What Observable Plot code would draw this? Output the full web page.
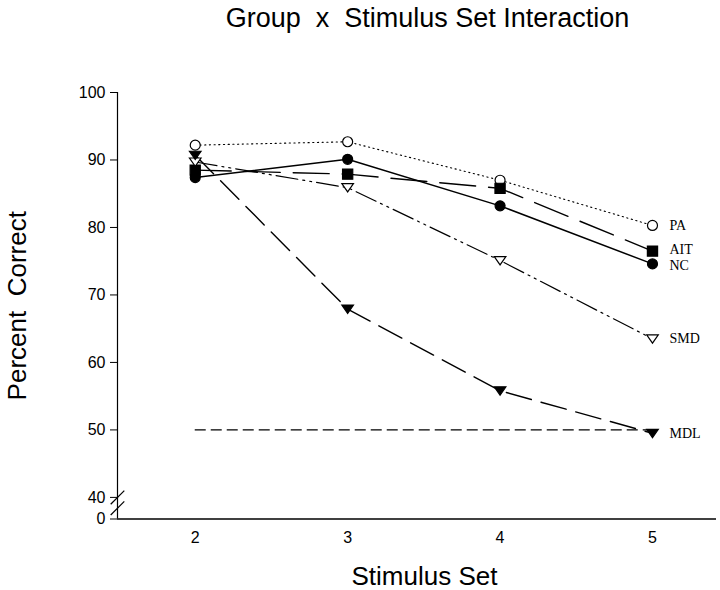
<!DOCTYPE html>
<html>
<head>
<meta charset="utf-8">
<script src="https://cdn.jsdelivr.net/npm/d3@7"></script>
<script src="https://cdn.jsdelivr.net/npm/@observablehq/plot@0.6"></script>
<style>
  html, body { margin: 0; padding: 0; background: #fff; }
  #chart svg { display: block; }
  #chart svg text { white-space: pre; }
  #chart svg g[aria-label*="tick label"] {
    font-size: 16px !important;
    font-family: 'Liberation Sans', Arial, Helvetica, sans-serif !important;
  }
</style>
</head>
<body>
<div id="chart"></div>
<script>
// ---- data ----
const chartTitle = "Group  x  Stimulus Set Interaction";
const xTitle = "Stimulus Set";
const yTitle = "Percent  Correct";
const stimulusSets = [2, 3, 4, 5];
const groups = ["PA", "AIT", "NC", "SMD", "MDL"];
const paValues  = [92.2, 92.7, 87.0, 80.3];
const aitValues = [88.5, 87.9, 85.8, 76.5];
const ncValues  = [87.4, 90.1, 83.2, 74.6];
const smdValues = [89.7, 85.9, 75.1, 63.5];
const mdlValues = [90.7, 67.9, 55.8, 49.5];
const chanceLevel = 50;
const xTicks = [2, 3, 4, 5];
const yTicks = [40, 50, 60, 70, 80, 90, 100];
const yZeroLabel = "0";
const yFloor = 36.8;          // scale value where the broken axis shows "0"
const breakMarks = [40, 38.4]; // the two "//" marks of the axis break
const xDomain = [1.49, 5.42];
const yDomain = [yFloor, 100];

// ---- build table ----
const valuesByGroup = {PA: paValues, AIT: aitValues, NC: ncValues, SMD: smdValues, MDL: mdlValues};
const rows = groups.flatMap(g => stimulusSets.map((s, i) => ({group: g, set: s, pct: valuesByGroup[g][i]})));
const lastRows = groups.map(g => rows.filter(r => r.group === g).at(-1));

// ---- symbols ----
const downTriangle = {
  draw(ctx, size) {
    const k = Math.sqrt(size / Math.PI);
    ctx.moveTo(-1.16 * k, -0.8 * k);
    ctx.lineTo(1.16 * k, -0.8 * k);
    ctx.lineTo(0, 0.86 * k);
    ctx.closePath();
  }
};
const square = {
  draw(ctx, size) {
    const k = Math.sqrt(size / Math.PI) * 1.02;
    ctx.rect(-k, -k, 2 * k, 2 * k);
  }
};
const slash = {
  draw(ctx, size) {
    const k = Math.sqrt(size / Math.PI);
    ctx.moveTo(-k, k);
    ctx.lineTo(k, -k);
  }
};

const styles = {
  PA:  {dash: "1.2,3.5", symbol: "circle", fill: "white", width: 1.1, labelDy: 0},
  AIT: {dash: "36,13", symbol: square, fill: "black", width: 1.4, labelDy: -2},
  NC:  {dash: null, symbol: "circle", fill: "black", width: 1.5, labelDy: 2},
  SMD: {dash: "22,5,2,5,2,5", symbol: downTriangle, fill: "white", width: 1.2, labelDy: 0},
  MDL: {dash: "26,10", symbol: downTriangle, fill: "black", width: 1.4, labelDy: 0}
};

const sans = "'Liberation Sans', Arial, Helvetica, sans-serif";
const serif = "'Liberation Serif', 'Times New Roman', serif";

const chart = Plot.plot({
  width: 720,
  height: 590,
  marginTop: 92,
  marginBottom: 71.5,
  marginLeft: 117,
  marginRight: 4,
  style: {fontFamily: sans, fontSize: "16px", color: "black", background: "white", overflow: "visible"},
  x: {domain: xDomain, ticks: xTicks, tickSize: 0, tickPadding: 13, label: null,
      tickFormat: d => String(d)},
  y: {domain: yDomain, ticks: [yFloor, ...yTicks], tickSize: 7, tickPadding: 5, label: null,
      tickFormat: d => d === yFloor ? yZeroLabel : String(d)},
  marks: [
    // axis lines
    Plot.ruleX([xDomain[0]], {y1: yFloor, y2: yDomain[1], stroke: "black", strokeWidth: 1.2}),
    Plot.ruleY([yFloor], {stroke: "black", strokeWidth: 1.6}),
    Plot.dot(breakMarks, {x: () => xDomain[0], y: d => d, symbol: slash, r: 6.8, fill: "none", stroke: "black", strokeWidth: 1.2}),
    // chance line
    Plot.ruleY([chanceLevel], {x1: stimulusSets[0], x2: stimulusSets[stimulusSets.length - 1], stroke: "black", strokeWidth: 1.2, strokeDasharray: "11,5"}),
    // series lines
    ...groups.map(g => Plot.line(rows.filter(r => r.group === g), {
      x: "set", y: "pct", stroke: "black", strokeWidth: styles[g].width,
      strokeDasharray: styles[g].dash ?? undefined
    })),
    // markers
    ...groups.map(g => Plot.dot(rows.filter(r => r.group === g), {
      x: "set", y: "pct", symbol: styles[g].symbol, r: 5,
      fill: styles[g].fill, stroke: "black", strokeWidth: 1.2
    })),
    // series labels
    ...lastRows.map(row => Plot.text([row], {x: "set", y: "pct", text: "group", dx: 17,
      dy: styles[row.group].labelDy, textAnchor: "start",
      lineAnchor: "middle", fontFamily: serif, fontSize: 14, fill: "black"})),
    // titles
    Plot.text([chartTitle], {frameAnchor: "top", dy: -66, dx: 10.5, textAnchor: "middle",
      lineAnchor: "bottom", fontSize: 27, fill: "black"}),
    Plot.text([xTitle], {frameAnchor: "bottom", dy: 66, dx: 7.5, textAnchor: "middle",
      lineAnchor: "bottom", fontSize: 26, fill: "black"}),
    Plot.text([yTitle], {frameAnchor: "left", dx: -92, rotate: -90, textAnchor: "middle",
      lineAnchor: "bottom", fontSize: 26, fill: "black"})
  ]
});
document.getElementById("chart").appendChild(chart);
</script>
</body>
</html>
